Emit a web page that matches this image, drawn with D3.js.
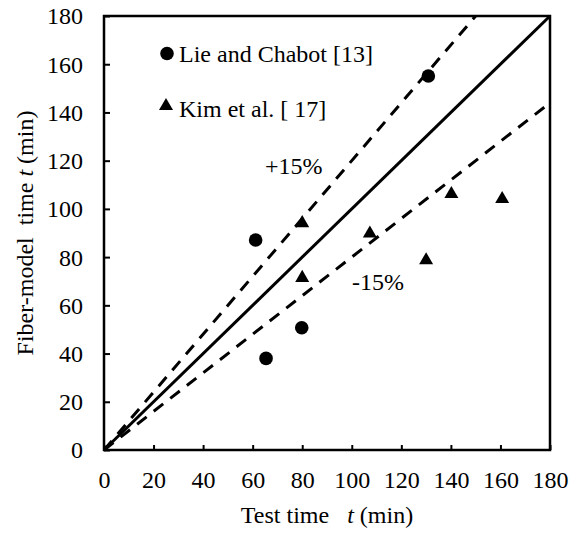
<!DOCTYPE html>
<html><head><meta charset="utf-8">
<script src="https://cdn.jsdelivr.net/npm/d3@7"></script>
<style>html,body{margin:0;padding:0;background:#fff;}svg text{font-family:"Times New Roman","Liberation Serif",Tinos,"DejaVu Serif",serif !important;fill:#000;}</style>
</head><body><svg id="c" width="570" height="533"></svg>
<script>
// Data
const lieX = [61.2, 65.4, 79.8, 130.9];
const lieY = [87.1, 38.0, 50.7, 155.1];
const kimX = [80, 80, 107.3, 130, 140.2, 160.7];
const kimY = [94.5, 71.8, 90.2, 79.1, 106.6, 104.5];
const ticks = [0, 20, 40, 60, 80, 100, 120, 140, 160, 180];
const lineFactors = [1.0, 1.2, 0.8];
const lineDashed = [false, true, true];
const legendLabels = ["Lie and Chabot [13]", "Kim et al. [ 17]"];

const FONT = '"Times New Roman","Liberation Serif",Tinos,"DejaVu Serif",serif';
const svg = d3.select("#c");
const L = 104, R = 550, T = 16, B = 450;
const x = d3.scaleLinear().domain([0, 180]).range([L, R]);
const y = d3.scaleLinear().domain([0, 180]).range([B, T]);

// reference lines
const line = d3.line().x(d => x(d[0])).y(d => y(d[1]));
lineFactors.forEach((k, i) => {
  const xe = Math.min(180, 180 / k);
  svg.append("path").attr("d", line([[0, 0], [xe, xe * k]]))
    .attr("fill", "none").attr("stroke", "#000").attr("stroke-width", 3)
    .attr("stroke-dasharray", lineDashed[i] ? "12,9" : null);
});

// axes (inside ticks)
const xa = svg.append("g").attr("transform", `translate(0,${B})`)
  .call(d3.axisBottom(x).tickValues(ticks).tickSize(-5).tickPadding(0).tickFormat(d3.format("d")));
const ya = svg.append("g").attr("transform", `translate(${L},0)`)
  .call(d3.axisLeft(y).tickValues(ticks).tickSize(-6).tickPadding(0).tickFormat(d3.format("d")));
[xa, ya].forEach(g => {
  g.attr("font-family", FONT).attr("font-size", 24);
  g.select(".domain").remove();
  g.selectAll(".tick line").attr("stroke", "#000").attr("stroke-width", 2);
  g.selectAll("text").attr("fill", "#000");
});
xa.selectAll("text").attr("y", 38).attr("dy", null);
ya.selectAll("text").attr("x", -21).attr("dy", "0.33em");

// frame
svg.append("rect").attr("x", L).attr("y", T).attr("width", R - L).attr("height", B - T)
  .attr("fill", "none").attr("stroke", "#000").attr("stroke-width", 2.5);

// markers
svg.append("g").selectAll("circle").data(lieX).join("circle")
  .attr("cx", (d, i) => x(d)).attr("cy", (d, i) => y(lieY[i])).attr("r", 6.8).attr("fill", "#000");
const tri = d3.symbol().type(d3.symbolTriangle).size(85);
svg.append("g").selectAll("path").data(kimX).join("path")
  .attr("d", tri).attr("transform", (d, i) => `translate(${x(d)},${y(kimY[i]) + 1})`).attr("fill", "#000");

// legend
svg.append("circle").attr("cx", 167).attr("cy", 53.5).attr("r", 6.8).attr("fill", "#000");
svg.append("text").attr("x", 179).attr("y", 62).attr("font-size", 24).text(legendLabels[0]);
svg.append("path").attr("d", tri).attr("transform", "translate(166,106)").attr("fill", "#000");
svg.append("text").attr("x", 179).attr("y", 117).attr("font-size", 24).text(legendLabels[1]);

// annotations
svg.append("text").attr("x", 265).attr("y", 174).attr("font-size", 24).text("+15%");
svg.append("text").attr("x", 352).attr("y", 290).attr("font-size", 24).text("-15%");

// axis titles
const xt = svg.append("text").attr("x", 327).attr("y", 523).attr("text-anchor", "middle").attr("font-size", 24).attr("xml:space", "preserve");
xt.append("tspan").text("Test time   ");
xt.append("tspan").attr("font-style", "italic").text("t");
xt.append("tspan").text(" (min)");
const yt = svg.append("text").attr("transform", "translate(33,233) rotate(-90)").attr("text-anchor", "middle").attr("font-size", 24).attr("xml:space", "preserve");
yt.append("tspan").text("Fiber-model  time ");
yt.append("tspan").attr("font-style", "italic").text("t");
yt.append("tspan").text(" (min)");
</script></body></html>
